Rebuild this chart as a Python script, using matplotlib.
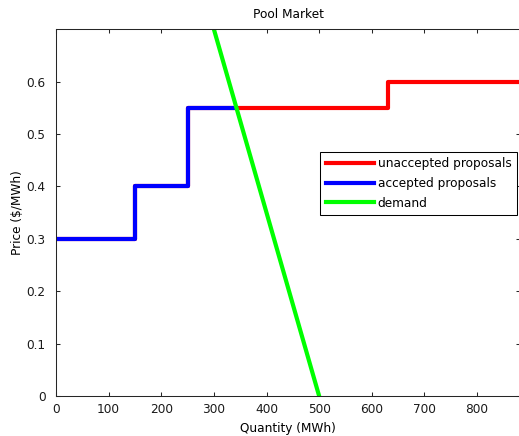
import numpy as np
import matplotlib
matplotlib.use("Agg")
import matplotlib.pyplot as plt

# Supply offers: block boundaries (MWh) and offer prices ($/MWh)
offer_edges = [0, 150, 250, 630, 900]
offer_prices = [0.3, 0.4, 0.55, 0.6]

# Demand curve end points
demand_q = [300, 500]
demand_p = [0.7, 0.0]

x_ticks = [0, 100, 200, 300, 400, 500, 600, 700, 800]
y_ticks = [0, 0.1, 0.2, 0.3, 0.4, 0.5, 0.6]

plt.rcParams['font.family'] = ['DejaVu Sans']
FS = 8.7

W, H = 519, 436
fig = plt.figure(figsize=(W / 100, H / 100), dpi=100)
left, right, top, bottom = 56, 520, 29.2, 396
ax = fig.add_axes([left / W, 1 - bottom / H, (right - left) / W, (bottom - top) / H])

# Build the supply step curve
sq, sp = [], []
for i, p in enumerate(offer_prices):
    sq += [offer_edges[i], offer_edges[i + 1]]
    sp += [p, p]
sq = np.array(sq, float)
sp = np.array(sp, float)

# Market clearing: where demand meets the supply curve
slope = (demand_p[1] - demand_p[0]) / (demand_q[1] - demand_q[0])
clear_q = None
for i, p in enumerate(offer_prices):
    q = demand_q[0] + (p - demand_p[0]) / slope
    if offer_edges[i] <= q <= offer_edges[i + 1]:
        clear_q = q
        break

acc_q = [x for x in sq if x <= clear_q] + [clear_q]
acc_p = list(sp[:len(acc_q) - 1]) + [sp[len(acc_q) - 2]]

lw = 3.0
ax.plot(sq, sp, color='#ff0000', lw=lw, label='unaccepted proposals')
ax.plot(acc_q, acc_p, color='#0000ff', lw=lw, label='accepted proposals')
ax.plot(demand_q, demand_p, color='#00ff00', lw=lw, label='demand')

ax.set_xlim(0, (right - left) / ((477 - 56) / 800))
ax.set_ylim(0, 0.7)
ax.set_xticks(x_ticks)
ax.set_xticklabels([str(v) for v in x_ticks])
ax.set_yticks(y_ticks)
ax.set_yticklabels(['0'] + [f'{v:.1f}' for v in y_ticks[1:]])
ax.tick_params(direction='in', length=3, width=0.75, labelsize=FS,
               top=True, right=True, colors='#262626', labelcolor='#1a1a1a')
ax.tick_params(axis='x', pad=5)
ax.tick_params(axis='y', pad=7.5)
for s in ax.spines.values():
    s.set_linewidth(0.75)
    s.set_color('#262626')

ax.set_title('Pool Market', fontsize=FS, pad=8)
ax.set_xlabel('Quantity (MWh)', fontsize=FS, labelpad=4)
ax.set_ylabel('Price ($/MWh)', fontsize=FS, labelpad=1.5)

leg = ax.legend(loc='upper right', bbox_to_anchor=(517 / W, 1 - 152 / H),
                bbox_transform=fig.transFigure, borderaxespad=0, fontsize=FS,
                fancybox=False, framealpha=1, edgecolor='black',
                handlelength=4.0, handletextpad=0.3, labelspacing=0.55,
                borderpad=0.45)
leg.get_frame().set_linewidth(0.75)

fig.savefig('out.png', dpi=100)
